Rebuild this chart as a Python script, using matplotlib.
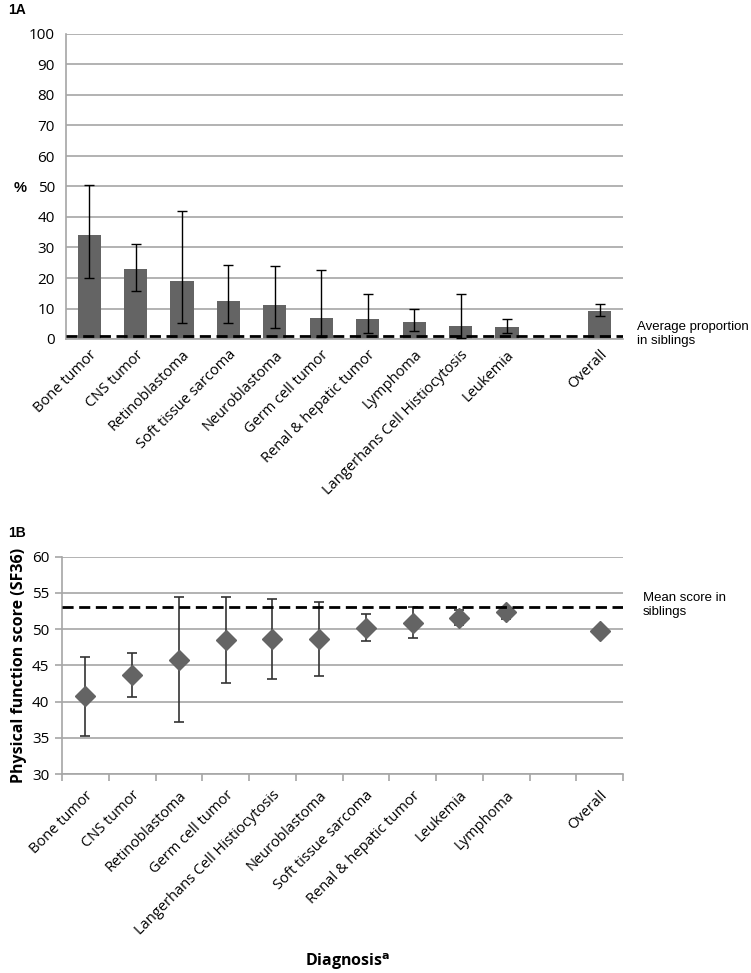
import numpy as np
import matplotlib.pyplot as plt

# ---- data, panel A (% by diagnosis) ----
cats_a = ["Bone tumor", "CNS tumor", "Retinoblastoma", "Soft tissue sarcoma",
          "Neuroblastoma", "Germ cell tumor", "Renal & hepatic tumor", "Lymphoma",
          "Langerhans Cell Histiocytosis", "Leukemia", "", "Overall"]
pct = [34.0, 22.9, 18.9, 12.6, 11.0, 6.9, 6.7, 5.5, 4.2, 3.8, np.nan, 9.3]
pct_lo = [20.0, 15.8, 5.4, 5.1, 3.6, 0.5, 2.1, 2.6, 0.2, 2.1, np.nan, 7.6]
pct_hi = [50.5, 31.2, 41.9, 24.4, 23.9, 22.7, 14.9, 9.7, 14.7, 6.4, np.nan, 11.4]
sib_pct = 0.9

# ---- data, panel B (SF36 physical function) ----
cats_b = ["Bone tumor", "CNS tumor", "Retinoblastoma", "Germ cell tumor",
          "Langerhans Cell Histiocytosis", "Neuroblastoma", "Soft tissue sarcoma",
          "Renal & hepatic tumor", "Leukemia", "Lymphoma", "", "Overall"]
score = [40.7, 43.6, 45.8, 48.5, 48.6, 48.6, 50.2, 50.9, 51.6, 52.3, np.nan, 49.7]
score_lo = [35.2, 40.6, 37.2, 42.5, 43.1, 43.5, 48.3, 48.8, 50.6, 51.4, np.nan, 49.1]
score_hi = [46.1, 46.7, 54.4, 54.5, 54.1, 53.7, 52.1, 53.0, 52.7, 53.0, np.nan, 50.3]
sib_score = 53.1

plt.rcParams['font.family'] = ['Open Sans', 'DejaVu Sans']
grid_c = "#a6a6a6"
bar_c = "#646464"

fig = plt.figure(figsize=(7.51, 9.73), dpi=100)

# ==============================
# 1A
# ==============================
ax1 = fig.add_axes([66/751, 1 - 339/973, 557/751, 305/973])
x = np.arange(len(cats_a))
pct_a = np.array(pct)
ax1.bar(x, pct_a, width=0.5, color=bar_c, zorder=2)
ax1.errorbar(x, pct_a, yerr=[pct_a - np.array(pct_lo), np.array(pct_hi) - pct_a],
             fmt="none", ecolor="black", elinewidth=1, capsize=3.5, capthick=1, zorder=3)
ax1.axhline(sib_pct, color="black", ls=(0, (4, 2)), lw=2, zorder=4)
ax1.set_xlim(-0.5, len(cats_a) - 0.5)
ax1.set_ylim(0, 100)
ax1.set_yticks(range(0, 101, 10))
ax1.yaxis.grid(True, color=grid_c, lw=1.2, zorder=0)
ax1.set_axisbelow(True)
ax1.set_xticks(x)
ax1.set_xticklabels(cats_a, rotation=45, ha="right", rotation_mode="anchor", fontsize=10.5)
ax1.tick_params(axis="x", length=0, pad=6)
ax1.tick_params(axis="y", length=0, labelsize=11, pad=8)
for s in ["top", "right"]:
    ax1.spines[s].set_visible(False)
for s in ["left", "bottom"]:
    ax1.spines[s].set_color(grid_c)
    ax1.spines[s].set_linewidth(1.2)

fig.text(8/751, 1 - 10/973, "1A", fontsize=10, fontweight="bold", family="Liberation Sans", va="center")
fig.text(14/751, 1 - 188/973, "%", fontsize=10.5, fontweight="bold", family="Liberation Sans", va="center")
fig.text(637/751, 1 - 334/973, "Average proportion\nin siblings", fontsize=9.5,
         family="Liberation Sans", va="center", linespacing=1.3)

# ==============================
# 1B
# ==============================
ax2 = fig.add_axes([62/751, 1 - 774/973, 561/751, 217.3/973])
xb = np.arange(len(cats_b))
sc = np.array(score)
ax2.errorbar(xb, sc, yerr=[sc - np.array(score_lo), np.array(score_hi) - sc],
             fmt="none", ecolor="#333333", elinewidth=1.2, capsize=3.5, capthick=1.2, zorder=3)
ax2.plot(xb, sc, "D", color=bar_c, ms=10, ls="none", zorder=4)
ax2.axhline(sib_score, color="black", ls=(0, (4, 2)), lw=2, zorder=5)
ax2.set_xlim(-0.5, len(cats_b) - 0.5)
ax2.set_ylim(30, 60)
ax2.set_yticks(range(30, 61, 5))
ax2.yaxis.grid(True, color=grid_c, lw=1.2, zorder=0)
ax2.set_axisbelow(True)
ax2.set_xticks(xb)
ax2.set_xticklabels(cats_b, rotation=45, ha="right", rotation_mode="anchor", fontsize=10.5)
ax2.set_xticks(np.arange(-0.5, len(cats_b), 1), minor=True)
ax2.tick_params(axis="x", which="major", length=0, pad=10)
ax2.tick_params(axis="x", which="minor", length=5, color=grid_c, width=1.2)
ax2.tick_params(axis="y", length=5, color=grid_c, width=1.2, labelsize=11, pad=4)
ax2.set_ylabel("Physical function score (SF36)", fontsize=11.5, fontweight="bold", labelpad=4)
for s in ["top", "right"]:
    ax2.spines[s].set_visible(False)
for s in ["left", "bottom"]:
    ax2.spines[s].set_color(grid_c)
    ax2.spines[s].set_linewidth(1.2)

fig.text(8/751, 1 - 533/973, "1B", fontsize=10, fontweight="bold", family="Liberation Sans", va="center")
fig.text(643/751, 1 - 605/973, "Mean score in\nsiblings", fontsize=9.5,
         family="Liberation Sans", va="center", linespacing=1.3)
fig.text(305/751, 1 - 962/973, r"Diagnosis$^{\mathbf{a}}$", fontsize=11.5, fontweight="bold", va="center")

fig.savefig("out.png", dpi=100)
